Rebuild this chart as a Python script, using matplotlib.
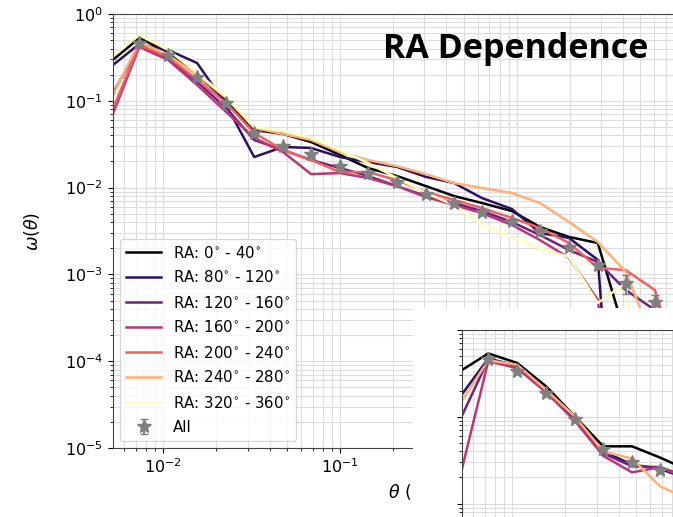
import matplotlib.pyplot as plt
import numpy as np
from matplotlib.patches import Rectangle

# angular bin centres (degrees)
theta = [0.00503, 0.00732, 0.01067, 0.01556, 0.0227, 0.0327, 0.0476, 0.0686,
         0.100, 0.144, 0.210, 0.306, 0.441, 0.634, 0.937, 1.35, 1.97, 2.87,
         4.13, 6.03, 8.75]

ra_labels = [r'RA: 0$^{\circ}$ - 40$^{\circ}$', r'RA: 80$^{\circ}$ - 120$^{\circ}$',
             r'RA: 120$^{\circ}$ - 160$^{\circ}$', r'RA: 160$^{\circ}$ - 200$^{\circ}$',
             r'RA: 200$^{\circ}$ - 240$^{\circ}$', r'RA: 240$^{\circ}$ - 280$^{\circ}$',
             r'RA: 320$^{\circ}$ - 360$^{\circ}$']

w_ra_0_40 = [0.280, 0.529, 0.365, 0.198, 0.102, 0.0461, 0.0415, 0.0335, 0.0238, 0.0168,
             0.0136, 0.0104, 0.00800, 0.00665, 0.00537, 0.00352, 0.00270, 0.00230,
             0.000190, 0.000021]
w_ra_80_120 = [0.245, 0.451, 0.385, 0.272, 0.0895, 0.0225, 0.0294, 0.0286, 0.0225, 0.0197,
               0.0173, 0.0133, 0.0113, 0.00759, 0.00567, 0.00300, 0.00263, 0.00147, 1e-7]
w_ra_120_160 = [0.108, 0.428, 0.311, 0.165, 0.0826, 0.0353, 0.0271, 0.0208, 0.0168, 0.0136,
                0.0104, 0.00800, 0.00665, 0.00537, 0.00402, 0.00284, 0.00191, 0.00139,
                0.000661, 0.000389, 0.00012]
w_ra_160_200 = [0.0601, 0.417, 0.295, 0.152, 0.0743, 0.0373, 0.0257, 0.0143, 0.0147, 0.0129,
                0.0104, 0.00779, 0.00631, 0.00509, 0.00371, 0.00249, 0.00155, 0.000507, 1e-6]
w_ra_200_240 = [0.0686, 0.440, 0.320, 0.174, 0.0944, 0.0426, 0.0271, 0.0208, 0.0151, 0.0151,
                0.0122, 0.00890, 0.00720, 0.00582, 0.00447, 0.00343, 0.00230, 0.00119,
                0.00112, 0.000661, 0.00006]
w_ra_240_280 = [0.102, 0.476, 0.337, 0.198, 0.108, 0.0486, 0.0415, 0.0353, 0.0257, 0.0208,
                0.0177, 0.0143, 0.0113, 0.00989, 0.00866, 0.00665, 0.00402, 0.00236,
                0.00107, 0.000154]
w_ra_320_360 = [0.311, 0.573, 0.385, 0.209, 0.111, 0.0499, 0.0449, 0.0373, 0.0271, 0.0192,
                0.0129, 0.00866, 0.00631, 0.00371, 0.00270, 0.00201, 0.00159, 0.000469,
                0.000796, 1e-7]

# full sample, starting at the second bin
w_all = [0.463, 0.337, 0.188, 0.0944, 0.0426, 0.0301, 0.0244, 0.0177, 0.0147, 0.0116,
         0.00844, 0.00665, 0.00523, 0.00412, 0.00316, 0.00207, 0.00128, 0.000796, 0.000481]
w_all_err = [0.02, 0.015, 0.008, 0.004, 0.0015, 0.001, 0.0007, 0.0005, 0.0004, 0.0003,
             0.00025, 0.0002, 0.00015, 0.00012, 0.0001, 0.0001, 0.00012, 0.0002, 0.0001]

# second panel (first bins only)
p2_black = [0.331, 0.537, 0.417, 0.224, 0.100, 0.0457, 0.0457, 0.0339, 0.0240, 0.018]
p2_indigo = [0.166, 0.468, 0.389, 0.200, 0.0955, 0.0398, 0.0282, 0.0251, 0.0191, 0.015]
p2_purple = [0.0891, 0.457, 0.380, 0.195, 0.0933, 0.0380, 0.0269, 0.0263, 0.0200, 0.015]
p2_crimson = [0.0191, 0.437, 0.363, 0.191, 0.0891, 0.0355, 0.0229, 0.0263, 0.0191, 0.014]
p2_peach = [0.138, 0.447, 0.398, 0.204, 0.100, 0.0398, 0.0331, 0.0158, 0.0112, 0.008]

W, H = 673, 517
colors = plt.cm.magma(np.linspace(0, 1, 7))


def style_axes(ax):
    ax.set_xscale('log')
    ax.set_yscale('log')
    ax.set_xlim(0.0052, 11)
    ax.set_ylim(1e-5, 1)
    ax.grid(True, which='both', color='#dcdcdc', lw=0.8)
    ax.set_axisbelow(True)
    for s in ax.spines.values():
        s.set_color('#444444')
    ax.tick_params(labelsize=11.5)


fig = plt.figure(figsize=(W / 100, H / 100), dpi=100)
ax = fig.add_axes([113 / W, 69 / H, 588 / W, 434 / H])
style_axes(ax)
# only the decades left of the overlay carry labels
ax.set_xticks([0.01, 0.1, 1])

series = [w_ra_0_40, w_ra_80_120, w_ra_120_160, w_ra_160_200,
          w_ra_200_240, w_ra_240_280, w_ra_320_360]
for lab, w, c in zip(ra_labels, series, colors):
    ax.plot(theta[:len(w)], w, color=c, lw=1.8, label=lab)
ax.errorbar(theta[1:1 + len(w_all)], w_all, yerr=w_all_err, fmt='*', color='grey',
            ms=10, capsize=3, elinewidth=1.5, label='All')

ax.set_xlabel(r'$\theta$ ($^{\circ}$)', fontsize=12.5)
ax.set_ylabel(r'$\omega(\theta)$', fontsize=12.5)
ax.yaxis.set_label_coords(-0.12, 0.5)
ax.legend(loc='lower left', fontsize=10.8, labelspacing=0.6, handlelength=2.3)

fig.text(383 / W, 1 - 58 / H, 'RA Dependence', fontsize=24.5, fontweight='bold',
         family='Open Sans', ha='left', va='baseline')

# second panel laid over the lower right corner
fig.add_artist(Rectangle((413 / W, 0), 260 / W, 209 / H, transform=fig.transFigure,
                         facecolor='white', edgecolor='none', zorder=5))
ax2 = fig.add_axes([462 / W, (H - 330 - 434) / H, 588 / W, 434 / H])
ax2.set_zorder(6)
style_axes(ax2)
ax2.tick_params(labelleft=False, labelbottom=False)
for w, c in zip([p2_black, p2_indigo, p2_purple, p2_crimson, p2_peach],
                [colors[0], colors[1], colors[2], colors[3], colors[5]]):
    ax2.plot(theta[:len(w)], w, color=c, lw=1.8)
ax2.errorbar(theta[1:10], w_all[:9], yerr=w_all_err[:9], fmt='*', color='grey',
             ms=10, capsize=3, elinewidth=1.5)

fig.savefig('out.png', dpi=100)
